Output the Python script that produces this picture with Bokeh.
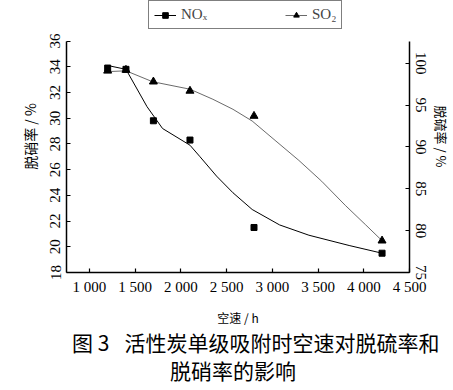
import math
from bokeh.plotting import figure
from bokeh.models import Range1d, LinearAxis, FixedTicker, Legend, LegendItem, Div
from bokeh.layouts import column
from bokeh.embed import file_html
from bokeh.resources import INLINE

# ---- data ----
space_velocity = [1200, 1400, 1700, 2100, 2800, 4200]
nox_rate = [33.9, 33.8, 29.8, 28.3, 21.5, 19.5]
so2_rate = [99.1, 99.2, 97.8, 96.7, 93.7, 78.8]

# fitted (smoothed) curves as drawn in the reference
nox_curve_x = [1200, 1400, 1630, 1800, 2100, 2210, 2390, 2570, 2780, 3080, 3400, 3840, 4200]
nox_curve_y = [34.1, 33.8, 30.9, 29.2, 27.9, 27.0, 25.5, 24.2, 22.9, 21.7, 20.9, 20.1, 19.5]
so2_curve_x = [1200, 1400, 1690, 2100, 2350, 2570, 2780, 3040, 3290, 3540, 3800, 4020, 4200]
so2_curve_y = [99.0, 99.1, 97.8, 96.9, 95.7, 94.5, 93.1, 90.7, 88.4, 85.9, 83.0, 80.7, 78.8]

x_ticks = [1000, 1500, 2000, 2500, 3000, 3500, 4000, 4500]
x_tick_labels = ["1 000", "1 500", "2 000", "2 500", "3 000", "3 500", "4 000", "4 500"]
left_ticks = [18, 20, 22, 24, 26, 28, 30, 32, 34, 36]
right_ticks = [75, 80, 85, 90, 95, 100]

x_label = "空速 / h"
left_label = "脱硝率 / %"
right_label = "脱硫率 / %"
caption_1 = "图 3 \u2002活性炭单级吸附时空速对脱硫率和"
caption_2 = "脱硝率的影响"
nox_name = "NOₓ"
so2_name = "SO₂"

SERIF = "Liberation Serif"
CJK = "Noto Sans CJK SC"

# frame spans from the canvas top (legend lives inside it) down to the x axis;
# the visible axis lines are limited with `bounds`
p = figure(width=453, height=328, output_backend="svg", toolbar_location=None,
           x_range=Range1d(750, 4500), y_range=Range1d(18, 39.154),
           min_border_left=66, min_border_right=42, min_border_top=0, min_border_bottom=53)
p.extra_y_ranges = {"so2": Range1d(75, 107.5)}
p.outline_line_color = None
p.grid.visible = False
p.background_fill_color = "white"
p.border_fill_color = "white"

def style_axis(ax):
    ax.axis_line_color = "black"
    ax.axis_line_width = 1.5
    ax.major_tick_in = 4
    ax.major_tick_out = 0
    ax.major_tick_line_color = "black"
    ax.major_tick_line_width = 1.2
    ax.minor_tick_line_color = None
    ax.major_label_text_font = SERIF
    ax.major_label_text_font_size = "15px"
    ax.major_label_text_color = "black"
    ax.axis_label_text_font = CJK
    ax.axis_label_text_font_style = "normal"
    ax.axis_label_text_color = "black"

xa = p.xaxis[0]
style_axis(xa)
xa.ticker = FixedTicker(ticks=x_ticks)
xa.major_label_overrides = dict(zip(x_ticks, x_tick_labels))
xa.major_label_standoff = 6
xa.axis_label = x_label
xa.axis_label_text_font_size = "12px"
xa.axis_label_standoff = 11

ya = p.yaxis[0]
style_axis(ya)
ya.ticker = FixedTicker(ticks=left_ticks)
ya.bounds = (18, 36)
ya.major_label_orientation = "vertical"
ya.major_label_standoff = 6
ya.axis_label = left_label
ya.axis_label_text_font_size = "14px"
ya.axis_label_standoff = 8

ra = LinearAxis(y_range_name="so2")
style_axis(ra)
ra.ticker = FixedTicker(ticks=right_ticks)
ra.bounds = (75, 102.66)
ra.major_label_orientation = "vertical"
ra.major_label_standoff = 6
ra.axis_label = right_label
ra.axis_label_text_font_size = "13px"
ra.axis_label_standoff = 3
if "axis_label_orientation" in ra.properties():
    ra.axis_label_orientation = "vertical"
p.add_layout(ra, "right")

nox_line = p.line(nox_curve_x, nox_curve_y, line_color="black", line_width=1.0)
nox_pts = p.scatter(space_velocity, nox_rate, marker="square", size=6,
                    fill_color="black", line_color="black")
so2_line = p.line(so2_curve_x, so2_curve_y, line_color="#444444", line_width=0.8,
                  y_range_name="so2")
so2_pts = p.scatter(space_velocity, so2_rate, marker="triangle", size=8,
                    fill_color="black", line_color="black", y_range_name="so2")

legend = Legend(items=[LegendItem(label=nox_name, renderers=[nox_line, nox_pts]),
                       LegendItem(label=so2_name, renderers=[so2_line, so2_pts])],
                orientation="horizontal", location=(82, 243),
                glyph_width=22, glyph_height=14, label_standoff=5, spacing=78,
                padding=5, margin=0,
                label_text_font=SERIF, label_text_font_size="15px",
                border_line_color="black", border_line_width=1.5,
                background_fill_alpha=1.0)
p.add_layout(legend, "center")

caption = Div(
    text=(f'<div style="padding-left:72px">{caption_1}</div>'
          f'<div style="padding-left:170px">{caption_2}</div>'),
    width=453, height=60, margin=0,
    styles={"font-family": "'Noto Sans CJK SC'", "font-size": "21px",
            "line-height": "28px", "color": "black", "white-space": "pre"})

open("out.html", "w").write(file_html(column(p, caption, spacing=0), INLINE))
